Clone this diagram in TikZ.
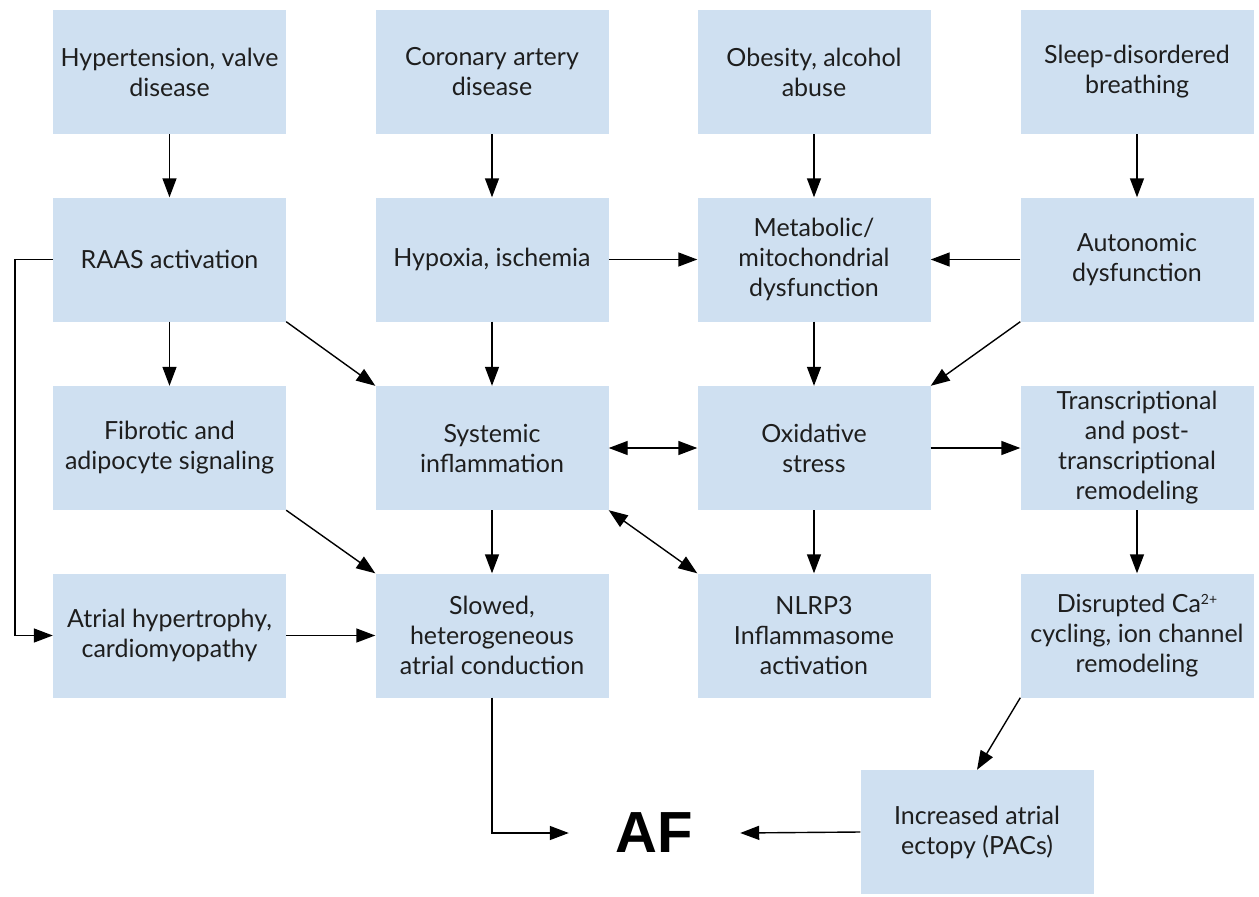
\documentclass[tikz,border=0pt]{standalone}
\usepackage{fontspec}
\setmainfont{Lato}
\newfontfamily\affont{Liberation Sans}
\usetikzlibrary{arrows.meta}
\definecolor{boxblue}{RGB}{207,224,241}
\definecolor{txt}{RGB}{30,30,30}
\newcommand{\supsm}[1]{\raisebox{0.62ex}{\fontsize{14}{14}\selectfont #1}}
\tikzset{
  box/.style={fill=boxblue, minimum width=233pt, minimum height=124pt, inner sep=0pt, align=center,
    font=\fontsize{25}{30}\selectfont, text=txt},
  arr/.style={line width=1.4pt, -{Triangle[length=19pt,width=14pt]}},
  darr/.style={line width=1.4pt, {Triangle[length=19pt,width=14pt]}-{Triangle[length=19pt,width=14pt]}}
}
\begin{document}
\begin{tikzpicture}[x=1pt,y=-1pt]
\useasboundingbox (0,0) rectangle (1259,897);
% row 1
\node[box] (htn) at (169.5,72) {Hypertension, valve\\disease};
\node[box] (cad) at (492,72) {Coronary artery\\disease};
\node[box] (obe) at (814,72) {Obesity, alcohol\\abuse};
\node[box] (sdb) at (1137,72) {Sleep-disordered\\breathing};
% row 2
\node[box] (raas) at (169.5,259.5) {RAAS activation};
\node[box] (hyp) at (492,259.5) {Hypoxia, ischemia};
\node[box] (met) at (814,259.5) {Metabolic/\\mitochondrial\\dysfunction};
\node[box] (aut) at (1137,259.5) {Autonomic\\dysfunction};
% row 3
\node[box] (fib) at (169.5,448) {Fibrotic and\\adipocyte signaling};
\node[box] (sys) at (492,448) {Systemic\\inflammation};
\node[box] (oxi) at (814,448) {Oxidative\\stress};
\node[box] (tra) at (1137,448) {Transcriptional\\and post-\\transcriptional\\remodeling};
% row 4
\node[box] (atr) at (169.5,635.5) {Atrial hypertrophy,\\cardiomyopathy};
\node[box] (slo) at (492,635.5) {Slowed,\\heterogeneous\\atrial conduction};
\node[box] (nlr) at (814,635.5) {NLRP3\\Inflammasome\\activation};
\node[box] (dis) at (1137,635.5) {Disrupted Ca\supsm{2+}\\cycling, ion channel\\remodeling};
% bottom
\node[box] (inc) at (977,832) {Increased atrial\\ectopy (PACs)};
\node[inner sep=0pt, minimum width=171pt, minimum height=50pt, text=black, font=\affont\bfseries\fontsize{58}{58}\selectfont] (af) at (654.5,833) {AF};
% arrows
\draw[arr] (htn) -- (raas);
\draw[arr] (cad) -- (hyp);
\draw[arr] (obe) -- (met);
\draw[arr] (sdb) -- (aut);
\draw[arr] (raas) -- (fib);
\draw[arr] (raas.south east) -- (sys.north west);
\draw[arr] (raas.west) -- ++(-38,0) |- (atr.west);
\draw[arr] (hyp) -- (met);
\draw[arr] (hyp) -- (sys);
\draw[arr] (aut) -- (met);
\draw[arr] (aut.south west) -- (oxi.north east);
\draw[arr] (met) -- (oxi);
\draw[darr] (sys) -- (oxi);
\draw[arr] (oxi) -- (tra);
\draw[arr] (oxi) -- (nlr);
\draw[arr] (sys) -- (slo);
\draw[darr] (sys.south east) -- (nlr.north west);
\draw[arr] (fib.south east) -- (slo.north west);
\draw[arr] (atr) -- (slo);
\draw[arr] (tra) -- (dis);
\draw[arr] (dis.south west) -- (inc.north);
\draw[arr] (slo.south) |- (af.west);
\draw[arr] (inc.west) -- (af.east);
\end{tikzpicture}
\end{document}
